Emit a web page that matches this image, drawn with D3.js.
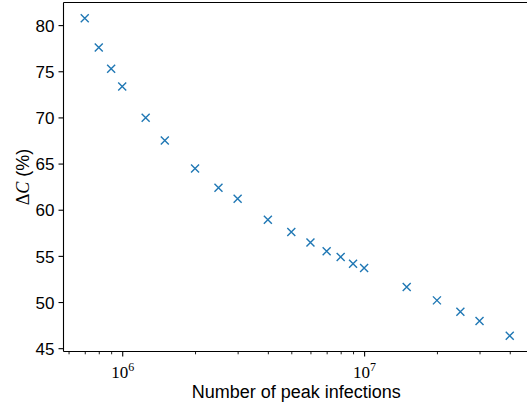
<!DOCTYPE html>
<html>
<head>
<meta charset="utf-8">
<script src="https://cdn.jsdelivr.net/npm/d3@7"></script>
<style>
  html, body { margin: 0; padding: 0; background: #fff; }
  svg { display: block; }
  .tick-label { font-family: "Liberation Sans", Arial, sans-serif; font-size: 17px; fill: #000; }
  .math { font-family: "Liberation Serif", "DejaVu Serif", serif; fill: #000; }
  .axis-label { font-family: "Liberation Sans", Arial, sans-serif; font-size: 18px; fill: #000; }
</style>
</head>
<body>
<svg id="chart" width="527" height="405"></svg>
<script>
// Peak infections (x, log scale) and relative change in C (%)
const peakInfections = [7e5, 8e5, 9e5, 1e6, 1.25e6, 1.5e6, 2e6, 2.5e6, 3e6, 4e6, 5e6,
  6e6, 7e6, 8e6, 9e6, 1e7, 1.5e7, 2e7, 2.5e7, 3e7, 4e7];
const deltaC = [80.73, 77.58, 75.26, 73.35, 69.97, 67.51, 64.46, 62.39, 61.19, 58.92, 57.58,
  56.46, 55.50, 54.89, 54.16, 53.70, 51.63, 50.18, 48.96, 47.94, 46.36];
const yTicks = [45, 50, 55, 60, 65, 70, 75, 80];
const xMajorTicks = [1e6, 1e7];
const xMinorTicks = [6e5, 7e5, 8e5, 9e5, 2e6, 3e6, 4e6, 5e6, 6e6, 7e6, 8e6, 9e6,
  2e7, 3e7, 4e7];

const svg = d3.select("#chart");
const plotLeft = 63.5, plotRight = 531, plotTop = 2.5, plotBottom = 351.5;

// Axis ranges with a 5% margin around the data (log space for x)
const lx = peakInfections.map(Math.log10);
const lxMin = d3.min(lx), lxMax = d3.max(lx), lxPad = (lxMax - lxMin) * 0.05;
const yMin = d3.min(deltaC), yMax = d3.max(deltaC), yPad = (yMax - yMin) * 0.05;

const x = d3.scaleLog()
  .domain([Math.pow(10, lxMin - lxPad), Math.pow(10, lxMax + lxPad)])
  .range([plotLeft, plotRight]);
const y = d3.scaleLinear()
  .domain([yMin - yPad, yMax + yPad])
  .range([plotBottom, plotTop]);

// Spines
const spine = svg.append("g").attr("stroke", "#000").attr("stroke-width", 1.1).attr("fill", "none");
spine.append("line").attr("x1", plotLeft).attr("x2", plotLeft).attr("y1", plotTop).attr("y2", plotBottom);
spine.append("line").attr("x1", plotLeft).attr("x2", plotRight).attr("y1", plotBottom).attr("y2", plotBottom);
spine.append("line").attr("x1", plotLeft).attr("x2", plotRight).attr("y1", plotTop).attr("y2", plotTop);
spine.append("line").attr("x1", plotRight).attr("x2", plotRight).attr("y1", plotTop).attr("y2", plotBottom);

// Y axis
const yAxis = d3.axisLeft(y).tickValues(yTicks).tickSize(5).tickPadding(4).tickFormat(d3.format("d"));
const gy = svg.append("g").attr("transform", `translate(${plotLeft},0)`).call(yAxis);
gy.select(".domain").remove();
gy.attr("font-size", null).attr("font-family", null);
gy.selectAll(".tick line").attr("stroke", "#000").attr("stroke-width", 1.1);
gy.selectAll(".tick text").attr("class", "tick-label").attr("dy", "0.36em");

// X axis: minor ticks
const gxMinor = svg.append("g").attr("transform", `translate(0,${plotBottom})`)
  .call(d3.axisBottom(x).tickValues(xMinorTicks).tickSize(2.8).tickFormat(""));
gxMinor.select(".domain").remove();
gxMinor.selectAll(".tick line").attr("stroke", "#000").attr("stroke-width", 0.9);

// X axis: major ticks with power-of-ten labels
const gx = svg.append("g").attr("transform", `translate(0,${plotBottom})`)
  .call(d3.axisBottom(x).tickValues(xMajorTicks).tickSize(5).tickFormat(""));
gx.select(".domain").remove();
gx.attr("font-size", null).attr("font-family", null);
gx.selectAll(".tick line").attr("stroke", "#000").attr("stroke-width", 1.1);
gx.selectAll(".tick").each(function(d) {
  const t = d3.select(this).append("text")
    .attr("class", "math")
    .attr("y", 26)
    .attr("text-anchor", "middle")
    .attr("font-size", 17);
  t.append("tspan").text("10");
  t.append("tspan").attr("font-size", 12).attr("dy", -7).text(Math.round(Math.log10(d)));
});

// Markers
const s = 4;
const pts = svg.append("g").attr("stroke", "#1f77b4").attr("stroke-width", 1.4).attr("fill", "none");
peakInfections.forEach((v, i) => {
  const cx = x(v), cy = y(deltaC[i]);
  pts.append("path").attr("d", `M${cx - s},${cy - s}L${cx + s},${cy + s}M${cx - s},${cy + s}L${cx + s},${cy - s}`);
});

// Axis labels
svg.append("text").attr("class", "axis-label")
  .attr("x", (plotLeft + plotRight) / 2 - 1).attr("y", 397.5)
  .attr("text-anchor", "middle")
  .text("Number of peak infections");

const yl = svg.append("text").attr("class", "axis-label")
  .attr("transform", `translate(28.5,${(plotTop + plotBottom) / 2}) rotate(-90)`)
  .attr("text-anchor", "middle");
yl.append("tspan").attr("class", "math").text("Δ");
yl.append("tspan").attr("class", "math").attr("font-style", "italic").text("C");
yl.append("tspan").text(" (%)");
</script>
</body>
</html>
